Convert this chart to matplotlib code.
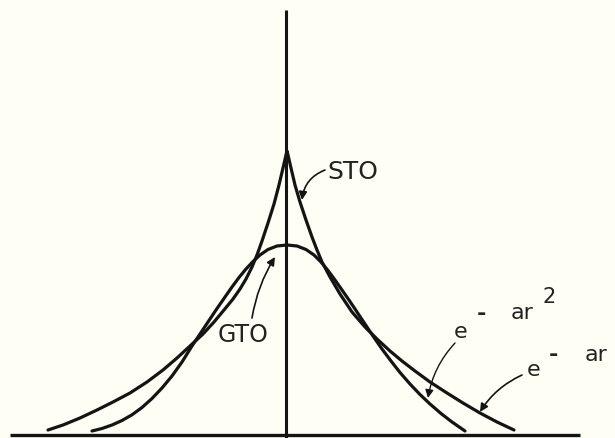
import matplotlib.pyplot as plt

# radial coordinate r and orbital amplitude, traced as a sketch
sto_r = [-239, -224, -207, -190, -174, -157, -140, -124, -110, -97, -84, -73,
         -63, -54, -47, -41, -35, -30, -25, -19, -13, -8, -4, -1, 0,
         1, 4, 8, 13, 19, 25, 30, 35, 43, 53, 65, 78, 90, 103, 115, 128,
         143, 160, 176, 193, 210, 227]
sto_psi = [4, 9, 16, 24, 32, 41, 52, 64, 76, 88, 100, 112,
           124, 135, 145, 155, 167, 179, 193, 211, 230, 249, 266, 279, 283,
           279, 266, 249, 232, 214, 197, 184, 172, 157, 140, 122, 107, 95, 83, 73, 63,
           52, 41, 31, 21, 12, 4]

gto_r = [-195, -185, -175, -165, -155, -145, -135, -125, -115, -105, -95, -87,
         -79, -71, -62, -55, -48, -41, -34, -27, -19, -10, 0,
         10, 19, 27, 34, 41, 48, 55, 63, 71, 79, 87, 95, 104, 113, 123,
         133, 143, 154, 165, 178]
gto_psi = [3, 5.5, 9, 13.5, 19.2, 26.5, 35.5, 46, 58, 72, 88, 100,
           112, 124, 137, 147, 156.5, 165, 172.5, 179, 184.5, 188, 189,
           188, 184.5, 179, 172, 163.5, 154, 144, 132.5, 120.5, 108.5, 96.5, 85, 73, 61.5, 50,
           39.5, 30, 20.5, 12, 3]

ink = '#141414'
paper = '#fefef4'

fig = plt.figure(figsize=(6.15, 4.38), dpi=100, facecolor=paper)
ax = fig.add_axes([0, 0, 1, 1])
ax.set_facecolor(paper)
ax.set_xlim(-287, 328)
ax.set_ylim(-4, 434)
ax.axis('off')

# axes drawn by hand: baseline and the vertical through r = 0
ax.plot([-277, 293], [-1, -1], color=ink, lw=2.4, solid_capstyle='butt')
ax.plot([-1, -1], [-4, 424], color=ink, lw=2.2, solid_capstyle='butt')

ax.plot(sto_r, sto_psi, color=ink, lw=2.3, solid_joinstyle='round', solid_capstyle='round')
ax.plot(gto_r, gto_psi, color=ink, lw=2.3, solid_joinstyle='round', solid_capstyle='round')

txt = dict(color='#222222', fontfamily='DejaVu Sans', ha='center', va='center')

ax.text(66, 262, 'STO', fontsize=18, **txt)
ax.text(-44, 99, 'GTO', fontsize=17, **txt)

# e^{-ar^2}
ax.text(174, 102, 'e', fontsize=16, **txt)
ax.text(194, 120, '-', fontsize=16, fontweight='bold', **txt)
ax.text(235, 121, 'ar', fontsize=16, **txt)
ax.text(262, 137, '2', fontsize=15, **txt)
# e^{-ar}
ax.text(247, 64, 'e', fontsize=16, **txt)
ax.text(266, 79, '-', fontsize=16, fontweight='bold', **txt)
ax.text(309, 79, 'ar', fontsize=16, **txt)

arrow = dict(arrowstyle='-|>', color=ink, mutation_scale=12, shrinkA=0, shrinkB=0)

ax.annotate('', xy=(15, 234), xytext=(38, 264),
            arrowprops=dict(connectionstyle='arc3,rad=0.3', lw=1.2, **arrow))
ax.annotate('', xy=(-12, 177), xytext=(-35, 116),
            arrowprops=dict(connectionstyle='arc3,rad=-0.1', lw=1.2, **arrow))
ax.annotate('', xy=(141, 36), xytext=(168, 91),
            arrowprops=dict(connectionstyle='arc3,rad=0.15', lw=1.0, **arrow))
ax.annotate('', xy=(193, 22), xytext=(235, 59),
            arrowprops=dict(connectionstyle='arc3,rad=0.15', lw=1.2, **arrow))

fig.savefig('out.png', dpi=100, facecolor=paper)
